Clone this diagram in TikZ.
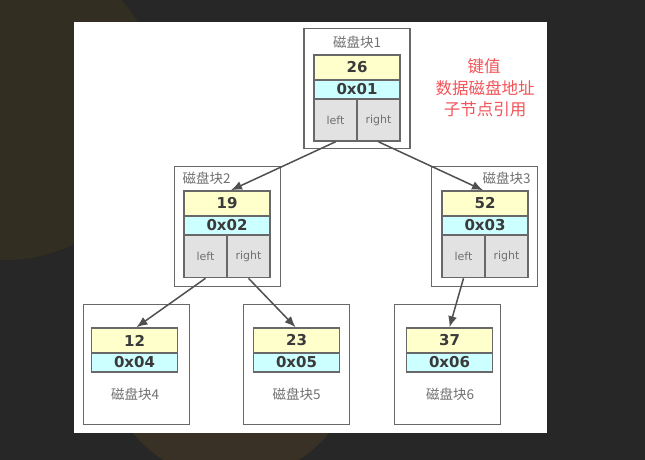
\documentclass[tikz,border=0pt]{standalone}
\usepackage{fontspec}
\setmainfont{DejaVu Sans}
\newfontfamily\cjkfont{Noto Sans CJK SC}
\usetikzlibrary{arrows.meta}
\definecolor{pagebg}{HTML}{272727}
\definecolor{bgolive}{HTML}{332E22}
\definecolor{bgbrown}{HTML}{3A3126}
\definecolor{linegray}{HTML}{686868}
\definecolor{textdark}{HTML}{3A3A3A}
\definecolor{labelgray}{HTML}{707070}
\definecolor{keyyellow}{HTML}{FFFFCC}
\definecolor{addrcyan}{HTML}{CCFFFF}
\definecolor{cellgray}{HTML}{E2E2E2}
\definecolor{notered}{HTML}{F2545A}
\definecolor{linkgray}{HTML}{505050}
\tikzset{
  x=1pt,y=-1pt,
  outerbox/.style={draw=linegray,line width=1.6pt,fill=white,minimum width=106pt,minimum height=120pt,inner sep=0pt},
  keycell/.style={draw=linegray,line width=1.6pt,fill=keyyellow,minimum width=86pt,minimum height=25pt,inner sep=0pt,text=textdark,font=\fontsize{15}{15}\selectfont\bfseries},
  addrcell/.style={draw=linegray,line width=1.6pt,fill=addrcyan,minimum width=86pt,minimum height=19pt,inner sep=0pt,text=textdark,font=\fontsize{15}{15}\selectfont\bfseries},
  refcell/.style={draw=linegray,line width=1.6pt,fill=cellgray,minimum width=43pt,minimum height=42pt,inner sep=0pt,text=labelgray,font=\fontsize{11}{11}\selectfont},
  blocklabel/.style={text=labelgray,inner sep=0pt,font=\cjkfont\fontsize{13.5}{14}\selectfont},
  notelabel/.style={text=notered,inner sep=0pt,font=\cjkfont\fontsize{16.5}{17}\selectfont},
  link/.style={draw=linkgray,line width=1.5pt,-{Latex[length=11pt,width=9pt]}}
}
\begin{document}
\begin{tikzpicture}
\useasboundingbox (0,0) rectangle (645,459);
\fill[pagebg] (-3,-3) rectangle (648,462);
\begin{scope}
  \clip (-3,-3) rectangle (648,462);
  \fill[bgolive] (5,104) circle[radius=156];
  \fill[bgbrown] (231,353) circle[radius=126.5];
\end{scope}
\fill[white] (74,22) rectangle (547,433);

% outer boxes
\node[outerbox] (b1) at (357,88.5) {};
\node[outerbox] (b2) at (227.5,226.5) {};
\node[outerbox] (b3) at (484.5,226.5) {};
\node[outerbox] (b4) at (136.5,364.5) {};
\node[outerbox] (b5) at (296.5,364.5) {};
\node[outerbox] (b6) at (447.5,364.5) {};

% block 1
\node[keycell] (k1) at (357,67.5) {26};
\node[addrcell] (a1) at (357,89.5) {0x01};
\node[refcell] (l1) at (335.5,120) {left};
\node[refcell] (r1) at (378.5,120) {right};
% block 2
\node[keycell] (k2) at (227,203.5) {19};
\node[addrcell] (a2) at (227,225.5) {0x02};
\node[refcell] (l2) at (205.5,256.5) {left};
\node[refcell] (r2) at (248.5,256.5) {right};
% block 3
\node[keycell] (k3) at (485,203.5) {52};
\node[addrcell] (a3) at (485,225.5) {0x03};
\node[refcell] (l3) at (463.5,256.5) {left};
\node[refcell] (r3) at (506.5,256.5) {right};
% block 4
\node[keycell] (k4) at (134.5,340.5) {12};
\node[addrcell] (a4) at (134.5,362.5) {0x04};
% block 5
\node[keycell] (k5) at (296.5,340.5) {23};
\node[addrcell] (a5) at (296.5,362.5) {0x05};
% block 6
\node[keycell] (k6) at (449.5,340.5) {37};
\node[addrcell] (a6) at (449.5,362.5) {0x06};

% labels
\node[blocklabel] (t1) at (357,42) {磁盘块1};
\node[blocklabel] (t2) at (206.5,178) {磁盘块2};
\node[blocklabel] (t3) at (506.5,178) {磁盘块3};
\node[blocklabel] (t4) at (135,394) {磁盘块4};
\node[blocklabel] (t5) at (296.5,394) {磁盘块5};
\node[blocklabel] (t6) at (450,394) {磁盘块6};

% notes
\node[notelabel] (n1) at (484,66) {键值};
\node[notelabel] (n2) at (485,88) {数据磁盘地址};
\node[notelabel] (n3) at (485,109) {子节点引用};

% connectors
\draw[link] (l1.south) -- ([xshift=4pt]k2.north);
\draw[link] (r1.south) -- ([xshift=-2pt]k3.north);
\draw[link] (l2.south) -- ([xshift=2pt]k4.north);
\draw[link] (r2.south) -- ([xshift=-1pt]k5.north);
\draw[link] (l3.south) -- (k6.north);
\end{tikzpicture}
\end{document}
